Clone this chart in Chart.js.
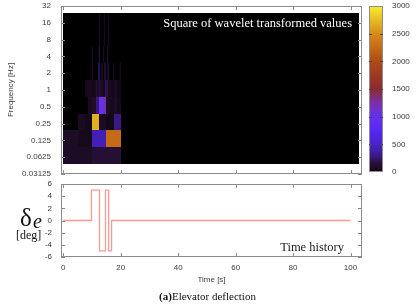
<!DOCTYPE html>
<html>
<head>
<meta charset="utf-8">
<script src="https://cdn.jsdelivr.net/npm/chart.js@4.4.1/dist/chart.umd.min.js"></script>
<style>
  body { margin: 0; background: #fff; }
  #wrap { position: relative; width: 420px; height: 305px; overflow: hidden; }
  canvas { position: absolute; left: 0; }
  .serif { position: absolute; font-family: 'Liberation Serif', 'Times New Roman', serif; color: #111; white-space: nowrap; }
</style>
</head>
<body>
<div id="wrap">
  <canvas id="wave" width="420" height="182" style="top:0"></canvas>
  <canvas id="hist" width="420" height="127" style="top:178px"></canvas>
  <div class="serif" style="left:20px;top:204.6px;font-size:25px;line-height:25px">δ</div>
  <div class="serif" style="left:33px;top:211.3px;font-size:20px;line-height:20px;font-style:italic">e</div>
  <div class="serif" style="left:16px;top:228.5px;font-size:12px;line-height:12px">[deg]</div>
  <div class="serif" style="left:0;width:415px;text-align:center;top:290.8px;font-size:11px;line-height:11px"><b>(a)</b>Elevator deflection</div>
</div>
<script>
/* scalogram rows: centre frequency (Hz), each row has time bins of 0.625/f seconds */
const freqRows = [0.0625, 0.125, 0.25, 0.5, 1];
const w0625 = [70, 130];
const w125 = [70, 25, 430, 2250];
const w25 = [0, 0, 50, 15, 2680, 60, 8, 290];
const w05 = [0, 0, 0, 0, 0, 0, 0, 45, 80, 280, 1000, 1180, 60, 40, 70, 25];
const w1 = [0, 0, 0, 0, 0, 0, 0, 0, 0, 0, 0, 0, 10, 40, 40, 30, 20, 30, 120, 80, 130, 60, 20, 200, 180, 40, 40, 20, 50, 50, 20, 10];
const rows = [w0625, w125, w25, w05, w1];

// faint streaks in the high frequency rows
const streakF = [2, 2, 2, 2, 2, 2, 2, 4, 4, 4, 4, 8, 8, 8, 16, 16, 16];
const streakT = [9.9, 12.2, 13.3, 14.3, 15.4, 17.3, 19.6, 9.9, 12.3, 13.8, 15.2, 12.3, 14.1, 15.5, 12.4, 14.1, 15.5];
const streakV = [60, 300, 120, 200, 160, 50, 50, 50, 150, 50, 100, 60, 40, 45, 40, 30, 35];

const yTicks = [0.03125, 0.0625, 0.125, 0.25, 0.5, 1, 2, 4, 8, 16, 32];
const xTicks = [0, 20, 40, 60, 80, 100];
const cTicks = [0, 500, 1000, 1500, 2000, 2500, 3000];
const hTicks = [-6, -4, -2, 0, 2, 4, 6];

// elevator deflection, value holds from histT[i] to histT[i+1]
const histT = [0, 9.8, 12.6, 14.7, 15.8, 16.8, 100];
const histV = [0, 5, -5, 5, -5, 0, 0];

const cmapStops = [0, 150, 300, 500, 800, 1000, 1250, 1500, 2000, 2500, 3000];
const cmapColors = ['#120814', '#28103a', '#3a1a88', '#4a22d0', '#5a2af4', '#6630ee', '#7a30a8', '#8a2a30', '#b04a16', '#d68c18', '#f8ee30'];

function hex(c) { return [1, 3, 5].map(i => parseInt(c.slice(i, i + 2), 16)); }
function cmap(v) {
  if (v <= 0) return cmapColors[0];
  for (let i = 1; i < cmapStops.length; i++) {
    if (v <= cmapStops[i]) {
      const f = (v - cmapStops[i - 1]) / (cmapStops[i] - cmapStops[i - 1]);
      const a = hex(cmapColors[i - 1]), b = hex(cmapColors[i]);
      return 'rgb(' + a.map((c, k) => Math.round(c + (b[k] - c) * f)).join(',') + ')';
    }
  }
  return cmapColors[cmapColors.length - 1];
}

Chart.defaults.font.family = "'Liberation Sans', Arial, sans-serif";
Chart.defaults.font.size = 8;
Chart.defaults.color = '#3c3c3c';

const scalogram = {
  id: 'scalogram',
  beforeDatasetsDraw(chart) {
    const { ctx, scales: { x, y } } = chart;
    const px = v => Math.round(x.getPixelForValue(v));
    const py = v => Math.round(y.getPixelForValue(v));
    ctx.save();
    ctx.fillStyle = '#000';
    const b0 = px(0), b1 = px(102.8), bt = py(16 * 2 ** 0.6), bb = py(0.0625 * 2 ** -0.4);
    ctx.fillRect(b0, bt, b1 - b0, bb - bt);
    rows.forEach((vals, r) => {
      const f = freqRows[r], dt = 0.625 / f;
      const top = py(f * 2 ** 0.6), bot = py(f * 2 ** -0.4);
      vals.forEach((v, i) => {
        if (v <= 0) return;
        const a = px(i * dt), b = px((i + 1) * dt);
        ctx.fillStyle = cmap(v);
        ctx.fillRect(a, top, b - a, bot - top);
      });
    });
    streakF.forEach((f, i) => {
      const dt = 0.625 / f;
      const a = x.getPixelForValue(streakT[i]);
      const w = Math.max(1.3, x.getPixelForValue(streakT[i] + dt) - a);
      const top = py(f * 2 ** 0.6), bot = py(f * 2 ** -0.4);
      ctx.fillStyle = cmap(streakV[i]);
      ctx.fillRect(a, top, w, bot - top);
    });
    ctx.fillStyle = '#fff';
    ctx.font = "12.5px 'Liberation Serif', serif";
    ctx.textAlign = 'right';
    ctx.textBaseline = 'alphabetic';
    ctx.fillText('Square of wavelet transformed values', chart.chartArea.right - 10, chart.chartArea.top + 21);
    ctx.restore();
  }
};

const frame = {
  id: 'frame',
  afterDraw(chart) {
    const { ctx, chartArea: a, scales: { x, y } } = chart;
    ctx.save();
    ctx.strokeStyle = '#8c8c8c';
    ctx.lineWidth = 1;
    ctx.strokeRect(a.left + 0.5, a.top + 0.5, a.right - a.left - 1, a.bottom - a.top - 1);
    ctx.beginPath();
    x.ticks.forEach(t => {
      const p = Math.round(x.getPixelForValue(t.value)) + 0.5;
      ctx.moveTo(p, a.bottom); ctx.lineTo(p, a.bottom - 4);
      ctx.moveTo(p, a.top); ctx.lineTo(p, a.top + 4);
    });
    y.ticks.forEach(t => {
      const p = Math.round(y.getPixelForValue(t.value)) + 0.5;
      ctx.moveTo(a.left, p); ctx.lineTo(a.left + 4, p);
      ctx.moveTo(a.right, p); ctx.lineTo(a.right - 4, p);
    });
    ctx.stroke();
    ctx.restore();
  }
};

const colorbar = {
  id: 'colorbar',
  afterDraw(chart) {
    const c = chart.scales.c, ctx = chart.ctx;
    const left = c.left + 7, w = 14;
    const top = Math.round(c.getPixelForValue(3000)), bot = Math.round(c.getPixelForValue(0));
    ctx.save();
    const g = ctx.createLinearGradient(0, bot, 0, top);
    cmapStops.forEach((s, i) => g.addColorStop(s / 3000, cmapColors[i]));
    ctx.fillStyle = g;
    ctx.fillRect(left, top, w, bot - top);
    ctx.strokeStyle = '#8c8c8c';
    ctx.strokeRect(left + 0.5, top + 0.5, w - 1, bot - top - 1);
    ctx.strokeStyle = '#4a4a4a';
    ctx.beginPath();
    c.ticks.forEach(t => {
      if (t.value <= 0 || t.value >= 3000) return;
      const p = Math.round(c.getPixelForValue(t.value)) + 0.5;
      ctx.moveTo(left, p); ctx.lineTo(left + 3, p);
      ctx.moveTo(left + w - 3, p); ctx.lineTo(left + w, p);
    });
    ctx.stroke();
    ctx.restore();
  }
};

const histLabel = {
  id: 'histLabel',
  afterDatasetsDraw(chart) {
    const { ctx, chartArea: a } = chart;
    ctx.save();
    ctx.fillStyle = '#222';
    ctx.font = "12.5px 'Liberation Serif', serif";
    ctx.textAlign = 'right';
    ctx.fillText('Time history', a.right - 18, a.bottom - 6);
    ctx.restore();
  }
};

// tick length (not tick padding) sets the gap between frame and labels,
// padding would also push the chart area down on vertical axes
const gapGrid = len => ({ display: false, drawTicks: true, tickLength: len });

new Chart(document.getElementById('wave'), {
  type: 'scatter',
  data: { datasets: [{ data: [] }] },
  options: {
    responsive: false, animation: false,
    layout: { padding: { top: 6, bottom: 8, left: 0, right: 0 } },
    plugins: { legend: { display: false }, tooltip: { enabled: false } },
    scales: {
      x: {
        type: 'linear', position: 'bottom', min: -0.8, max: 104,
        grid: { display: false, drawTicks: false }, border: { display: false },
        ticks: { display: false },
        afterBuildTicks: s => { s.ticks = xTicks.map(v => ({ value: v })); },
        afterFit: s => { s.height = 0; }
      },
      y: {
        type: 'logarithmic', position: 'left', min: 0.03125, max: 32,
        grid: gapGrid(10), border: { display: false },
        ticks: { autoSkip: false, padding: 0, callback: v => String(v) },
        title: { display: true, text: 'Frequency [Hz]', padding: { top: 6, bottom: 0 } },
        afterBuildTicks: s => { s.ticks = yTicks.map(v => ({ value: v })); },
        afterFit: s => { s.width = 61; }
      },
      c: {
        type: 'linear', position: 'right', min: -36, max: 3000,
        grid: gapGrid(30), border: { display: false },
        ticks: { autoSkip: false, padding: 0, callback: v => String(v) },
        afterBuildTicks: s => { s.ticks = cTicks.map(v => ({ value: v })); },
        afterFit: s => { s.width = 58; }
      }
    }
  },
  plugins: [scalogram, frame, colorbar]
});

new Chart(document.getElementById('hist'), {
  type: 'line',
  data: {
    datasets: [{
      data: histT.map((t, i) => ({ x: t, y: histV[i] })),
      stepped: 'before',
      borderColor: '#f29c96', borderWidth: 1.3,
      pointRadius: 0, fill: false
    }]
  },
  options: {
    responsive: false, animation: false,
    layout: { padding: { top: 6, bottom: 18, left: 0, right: 58 } },
    plugins: { legend: { display: false }, tooltip: { enabled: false } },
    scales: {
      x: {
        type: 'linear', position: 'bottom', min: -0.8, max: 104,
        grid: { display: false, drawTicks: false }, border: { display: false },
        ticks: { autoSkip: false, padding: 6 },
        title: { display: true, text: 'Time [s]', padding: { top: 0, bottom: 2 } },
        afterBuildTicks: s => { s.ticks = xTicks.map(v => ({ value: v })); },
        afterFit: s => { s.height = 30; }
      },
      y: {
        type: 'linear', position: 'left', min: -6, max: 6,
        grid: gapGrid(9), border: { display: false },
        ticks: { autoSkip: false, padding: 0 },
        afterBuildTicks: s => { s.ticks = hTicks.map(v => ({ value: v })); },
        afterFit: s => { s.width = 61; }
      }
    }
  },
  plugins: [frame, histLabel]
});
</script>
</body>
</html>
